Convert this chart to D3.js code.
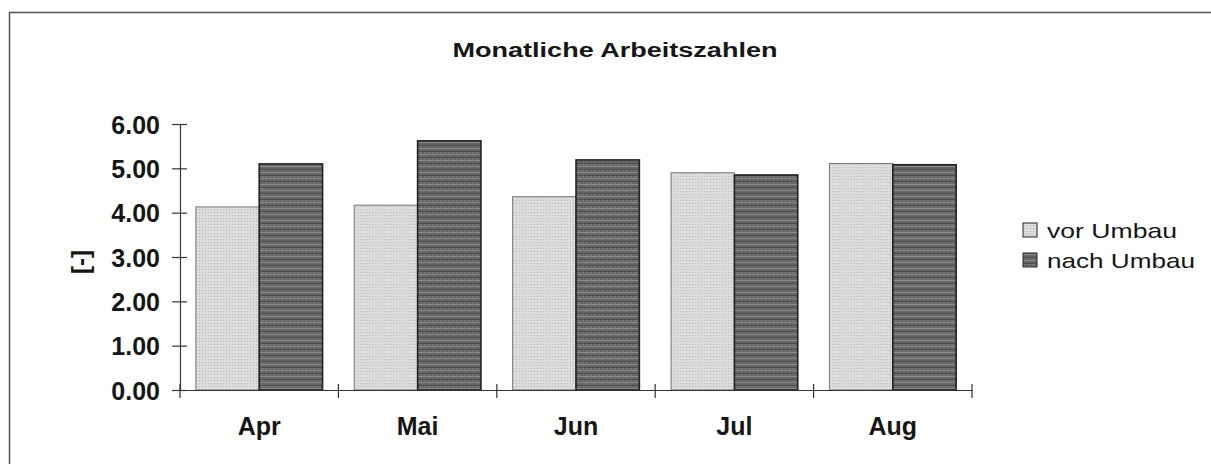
<!DOCTYPE html>
<meta charset="utf-8">
<style>
body {
  margin: 0;
  background: #fff;
  font-family: "Liberation Sans", Arial, sans-serif;
}
.axis path, .axis line {
  stroke: #333;
  stroke-width: 1.2px;
}
.axis text {
  font-size: 25px;
  font-weight: bold;
  fill: #161616;
}
</style>
<body>
<script src="https://d3js.org/d3.v7.min.js"></script>
<script>

const months = ["Apr", "Mai", "Jun", "Jul", "Aug"];
const seriesNames = ["vor Umbau", "nach Umbau"];
const vorUmbau = [4.13, 4.17, 4.36, 4.90, 5.11];
const nachUmbau = [5.10, 5.62, 5.19, 4.85, 5.08];
const yTicks = [0, 1, 2, 3, 4, 5, 6];

const width = 1211, height = 464;
const margin = {top: 124, left: 180, right: 239, bottom: 74};
const innerWidth = width - margin.left - margin.right;
const innerHeight = height - margin.top - margin.bottom;

const rows = months.map((m, i) => ({month: m, values: [vorUmbau[i], nachUmbau[i]]}));

const svg = d3.select("body").append("svg")
    .attr("width", width)
    .attr("height", height);

// textures
const defs = svg.append("defs");
const pLight = defs.append("pattern")
    .attr("id", "light").attr("patternUnits", "userSpaceOnUse")
    .attr("width", 3).attr("height", 3);
pLight.append("rect").attr("width", 3).attr("height", 3).attr("fill", "#dcdcdc");
pLight.append("rect").attr("x", 1).attr("y", 1).attr("width", 1).attr("height", 1).attr("fill", "#b4b4b4");

const pDark = defs.append("pattern")
    .attr("id", "dark").attr("patternUnits", "userSpaceOnUse")
    .attr("width", 4).attr("height", 6);
pDark.append("rect").attr("width", 4).attr("height", 6).attr("fill", "#666");
pDark.append("rect").attr("y", 0).attr("width", 4).attr("height", 1).attr("fill", "#8a8a8a");
pDark.append("rect").attr("y", 3).attr("width", 4).attr("height", 1).attr("fill", "#4c4c4c");
pDark.append("rect").attr("x", 2).attr("y", 4).attr("width", 1).attr("height", 1).attr("fill", "#959595");

// frame
svg.append("path")
    .attr("d", `M9.5,${height} V12.5 H${width}`)
    .attr("fill", "none")
    .attr("stroke", "#555")
    .attr("stroke-width", 1.5);

const g = svg.append("g")
    .attr("transform", `translate(${margin.left},${margin.top})`);

const x0 = d3.scaleBand().domain(months).range([0, innerWidth]).paddingInner(0).paddingOuter(0);
const x1 = d3.scaleBand().domain([0, 1]).range([0, x0.bandwidth()]).paddingOuter(0.25);
const y = d3.scaleLinear().domain([0, 6]).range([innerHeight, 0]);

const fills = ["url(#light)", "url(#dark)"];
const strokes = ["#777", "#222"];

g.selectAll(".month")
  .data(rows)
  .enter().append("g")
    .attr("transform", d => `translate(${x0(d.month)},0)`)
  .selectAll("rect")
  .data(d => d.values)
  .enter().append("rect")
    .attr("x", (d, i) => x1(i))
    .attr("width", x1.bandwidth())
    .attr("y", d => y(d))
    .attr("height", d => innerHeight - y(d))
    .attr("fill", (d, i) => fills[i])
    .attr("stroke", (d, i) => strokes[i])
    .attr("stroke-width", (d, i) => i ? 1.6 : 1);

// y axis
const yAxis = g.append("g")
    .attr("class", "axis")
    .call(d3.axisLeft(y).tickValues(yTicks).tickFormat(d3.format(".2f")).tickSize(8).tickSizeOuter(0));
yAxis.selectAll(".tick line").attr("x2", 7).attr("x1", -8);
yAxis.selectAll(".tick text").attr("x", -20).attr("dy", "0.36em");

// x axis
const xAxis = g.append("g")
    .attr("class", "axis")
    .attr("transform", `translate(0,${innerHeight})`)
    .call(d3.axisBottom(x0).tickSize(0).tickSizeOuter(0));
xAxis.selectAll(".tick text").attr("y", 45).attr("dy", 0);
xAxis.selectAll(".sep")
  .data(d3.range(months.length + 1))
  .enter().append("line")
    .attr("x1", i => i * x0.step())
    .attr("x2", i => i * x0.step())
    .attr("y1", -6).attr("y2", 8)
    .attr("stroke", "#333").attr("stroke-width", 1.2);

// title
svg.append("text")
    .attr("x", 615)
    .attr("y", 57)
    .attr("text-anchor", "middle")
    .attr("textLength", 325)
    .attr("lengthAdjust", "spacingAndGlyphs")
    .style("font-size", "20px")
    .style("font-weight", "bold")
    .style("fill", "#161616")
    .text("Monatliche Arbeitszahlen");

// y label
svg.append("text")
    .attr("transform", `translate(80,262) rotate(-90)`)
    .attr("text-anchor", "middle")
    .attr("dy", "0.36em")
    .style("font-size", "24px")
    .style("font-weight", "bold")
    .style("fill", "#161616")
    .text("[-]");

// legend
const legendWidths = [130, 148];
const legend = svg.append("g")
    .attr("transform", "translate(1023,230)");
const li = legend.selectAll("g")
  .data(seriesNames)
  .enter().append("g")
    .attr("transform", (d, i) => `translate(0,${i * 30})`);
li.append("rect")
    .attr("x", 0).attr("y", -7)
    .attr("width", 14).attr("height", 14)
    .attr("fill", (d, i) => fills[i])
    .attr("stroke", "#222");
li.append("text")
    .attr("x", 24)
    .attr("dy", "0.36em")
    .attr("textLength", (d, i) => legendWidths[i])
    .attr("lengthAdjust", "spacingAndGlyphs")
    .style("font-size", "21px")
    .style("fill", "#161616")
    .text(d => d);

</script>
